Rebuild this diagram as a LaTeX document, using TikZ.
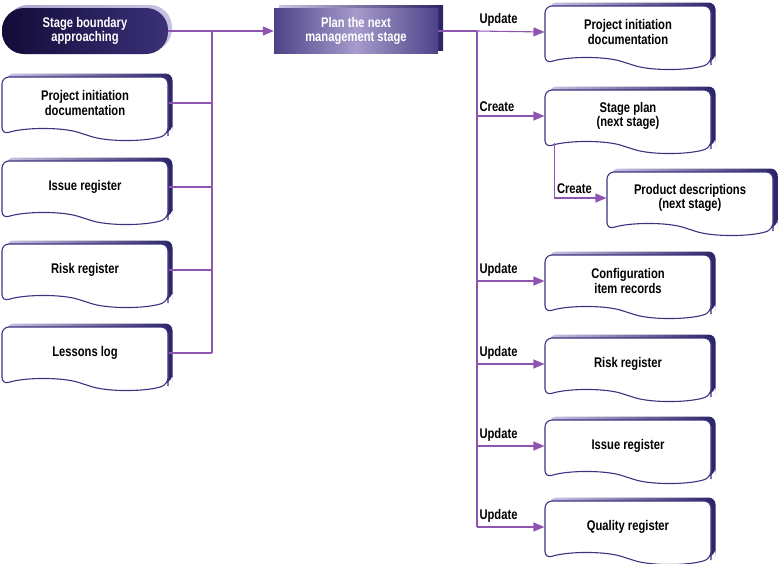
\documentclass[tikz,border=0pt]{standalone}
\usepackage{fontspec}
\setmainfont[FakeStretch=0.8]{Liberation Sans}
\usetikzlibrary{arrows.meta,positioning,shapes.symbols}

\definecolor{linkviolet}{HTML}{8E55B0}
\definecolor{docline}{HTML}{3A3380}
\definecolor{shadelight}{HTML}{C9C2E2}
\definecolor{shadedark}{HTML}{2B2466}
\definecolor{navydark}{HTML}{120C38}
\definecolor{navymid}{HTML}{3A3178}
\definecolor{planedge}{HTML}{4E4388}
\definecolor{planmid}{HTML}{A69BCB}

\begin{document}
\begin{tikzpicture}[
  x=1pt, y=-1pt,
  font=\fontsize{14}{14.5}\selectfont\bfseries,
  doc/.style={shape=tape, tape bend top=none, tape bend bottom=out and in, tape bend height=11pt,
    rounded corners=7pt, draw=docline, line width=1.1pt, fill=white, align=center,
    minimum width=166pt, minimum height=63pt,
    preaction={left color=shadelight, right color=shadedark, draw=none,
      transform canvas={xshift=4.5pt, yshift=3.5pt}}},
  start/.style={rectangle, rounded corners=22pt, minimum width=166pt, minimum height=46pt,
    left color=navydark, right color=navymid, text=white, align=center,
    preaction={left color=shadelight!80!docline, right color=shadelight, draw=none,
      transform canvas={xshift=4pt, yshift=3pt}}},
  process/.style={rectangle, minimum width=164pt, minimum height=45pt,
    left color=planedge, right color=planedge, middle color=planmid, text=white, align=center,
    preaction={left color=shadelight, right color=shadedark, draw=none,
      transform canvas={xshift=5pt, yshift=3pt}}},
  link/.style={draw=linkviolet, line width=1.1pt},
  arrow/.style={-{Triangle[length=11pt, width=9pt]}, draw=linkviolet, line width=1.1pt},
  lbl/.style={anchor=south west, inner sep=2pt, yshift=2pt}
]
\useasboundingbox (0,0) rectangle (778,563);

% inputs
\node[start] (sba) at (85,31) {Stage boundary\\approaching};
\node[doc] (pid) at (85,103) {Project initiation\\documentation};
\node[doc] (issue) at (85,187) {Issue register};
\node[doc] (risk) at (85,270) {Risk register};
\node[doc] (lessons) at (85,353) {Lessons log};

\node[process] (plan) at (356,31) {Plan the next\\management stage};

% outputs
\node[doc] (rpid) at (628,32) {Project initiation\\documentation};
\node[doc] (splan) at (628,116) {Stage plan\\(next stage)};
\node[doc] (pdesc) at (690,198) {Product descriptions\\(next stage)};
\node[doc] (cir) at (628,281) {Configuration\\item records};
\node[doc] (rrisk) at (628,364) {Risk register};
\node[doc] (rissue) at (628,446) {Issue register};
\node[doc] (qreg) at (628,527) {Quality register};

\coordinate (lt) at (212,31);
\coordinate (rt) at (477,31);

\draw[arrow] (sba.east) -- (plan.west);
\draw[link] (lt) -- (lt |- lessons.east);
\draw[link] (pid.east) -- (pid.east -| lt);
\draw[link] (issue.east) -- (issue.east -| lt);
\draw[link] (risk.east) -- (risk.east -| lt);
\draw[link] (lessons.east) -- (lessons.east -| lt);

\draw[link] (plan.east) -- (rt);
\draw[link] (rt) -- (rt |- qreg.west);
\draw[arrow] (rt) -- node[lbl, at start] {Update} (rpid.west);
\draw[arrow] (rt |- splan.west) -- node[lbl, at start] {Create} (splan.west);
\draw[arrow] (rt |- cir.west) -- node[lbl, at start] {Update} (cir.west);
\draw[arrow] (rt |- rrisk.west) -- node[lbl, at start] {Update} (rrisk.west);
\draw[arrow] (rt |- rissue.west) -- node[lbl, at start] {Update} (rissue.west);
\draw[arrow] (rt |- qreg.west) -- node[lbl, at start] {Update} (qreg.west);

\draw[arrow] ([xshift=10pt]splan.south west) |- node[lbl, pos=0.5] {Create} (pdesc.west);

\end{tikzpicture}
\end{document}
